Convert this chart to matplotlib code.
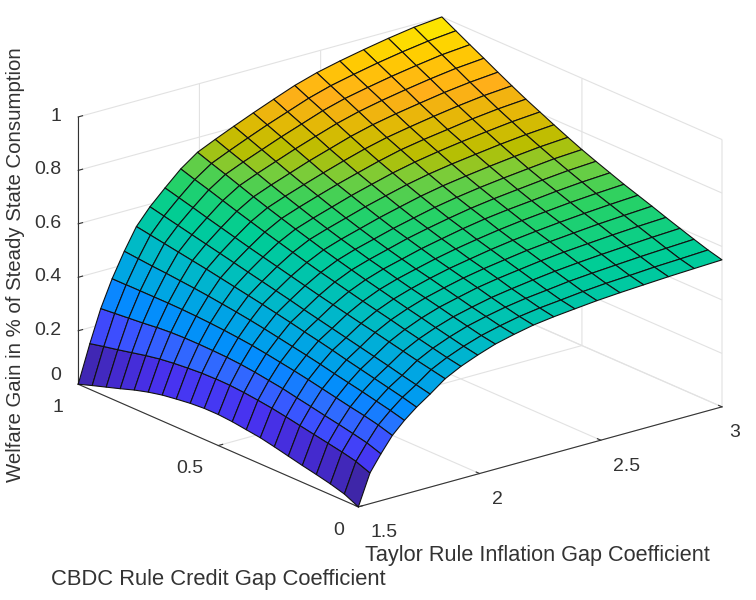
import numpy as np
import matplotlib
matplotlib.use('Agg')
import matplotlib.pyplot as plt
from matplotlib.colors import LinearSegmentedColormap

plt.rcParams['font.family'] = ['Liberation Sans', 'DejaVu Sans']

# grid of the surface
taylor = [1.5, 1.548, 1.593, 1.64, 1.69, 1.74, 1.796, 1.858, 1.923, 1.992, 2.065,
          2.142, 2.222, 2.306, 2.393, 2.484, 2.579, 2.677, 2.779, 2.885, 3.0]
cbdc = [0, .05, .1, .15, .2, .25, .3, .35, .4, .45, .5, .55, .6, .65, .7, .75, .8, .85, .9, .95, 1]

# welfare gain in thousandths, one row per cbdc value
gain = [
    [0, 115, 175, 232, 276, 313, 348, 390, 420, 445, 468, 485, 500, 510, 518, 526, 532, 537, 542, 546, 550],
    [25, 135, 193, 248, 290, 327, 360, 401, 430, 455, 477, 494, 509, 520, 528, 537, 544, 549, 555, 559, 564],
    [40, 147, 205, 260, 302, 339, 372, 412, 442, 467, 489, 506, 521, 533, 542, 552, 559, 565, 571, 576, 581],
    [52, 157, 216, 270, 314, 351, 385, 424, 454, 479, 501, 518, 534, 546, 557, 567, 575, 582, 588, 594, 599],
    [63, 167, 226, 281, 325, 363, 397, 436, 466, 492, 514, 531, 548, 561, 572, 583, 592, 599, 606, 612, 617],
    [75, 177, 237, 292, 336, 375, 409, 448, 479, 504, 526, 544, 561, 575, 587, 599, 608, 616, 624, 630, 636],
    [87, 187, 247, 303, 348, 388, 421, 459, 491, 517, 538, 557, 574, 588, 602, 614, 624, 633, 641, 648, 654],
    [98, 196, 258, 313, 359, 400, 433, 471, 503, 530, 551, 569, 587, 603, 617, 630, 641, 650, 659, 666, 672],
    [105, 203, 266, 322, 369, 411, 445, 483, 516, 543, 565, 583, 602, 618, 634, 648, 659, 668, 678, 686, 692],
    [112, 209, 274, 331, 379, 423, 457, 495, 529, 557, 578, 597, 617, 634, 650, 665, 677, 687, 697, 706, 712],
    [116, 213, 280, 339, 389, 434, 470, 508, 542, 571, 593, 612, 632, 650, 668, 683, 696, 707, 717, 727, 733],
    [116, 214, 284, 345, 398, 445, 482, 521, 556, 586, 608, 628, 649, 668, 687, 703, 716, 728, 739, 749, 756],
    [112, 213, 286, 350, 406, 455, 494, 534, 571, 602, 624, 645, 667, 687, 707, 724, 738, 750, 762, 772, 780],
    [105, 209, 287, 354, 413, 465, 506, 547, 586, 618, 641, 663, 686, 707, 728, 746, 761, 774, 786, 797, 805],
    [97, 204, 287, 357, 420, 475, 518, 560, 601, 635, 659, 682, 705, 727, 749, 769, 784, 797, 811, 822, 830],
    [85, 197, 285, 359, 426, 485, 530, 574, 617, 652, 677, 701, 725, 749, 772, 792, 808, 823, 837, 849, 857],
    [70, 187, 281, 360, 431, 494, 542, 588, 633, 670, 696, 721, 747, 771, 796, 817, 834, 849, 864, 876, 885],
    [52, 175, 275, 360, 436, 503, 554, 602, 650, 689, 716, 742, 769, 795, 821, 843, 861, 877, 892, 905, 914],
    [35, 163, 270, 360, 440, 512, 566, 617, 667, 708, 736, 763, 791, 818, 846, 869, 887, 904, 919, 933, 942],
    [18, 152, 265, 360, 445, 521, 578, 631, 683, 726, 755, 784, 813, 841, 870, 894, 913, 931, 947, 961, 971],
    [0, 140, 260, 360, 450, 530, 590, 645, 700, 745, 775, 805, 835, 865, 895, 920, 940, 958, 975, 990, 1000],
]

x_ticks = [1.5, 2, 2.5, 3]
x_labels = ['1.5', '2', '2.5', '3']
y_ticks = [0, .5, 1]
y_labels = ['0', '0.5', '1']
z_ticks = [0, .2, .4, .6, .8, 1]
z_labels = ['0', '0.2', '0.4', '0.6', '0.8', '1']

# parula-like colours as they look in the picture
stops = [(0, (62, 38, 168)), (.05, (68, 42, 205)), (.10, (72, 50, 240)), (.165, (60, 80, 255)),
         (.222, (45, 110, 255)), (.268, (5, 138, 255)), (.31, (0, 155, 240)), (.38, (0, 170, 222)),
         (.45, (0, 188, 195)), (.56, (0, 205, 150)), (.64, (40, 210, 100)), (.70, (120, 205, 60)),
         (.74, (185, 190, 0)), (.79, (225, 185, 5)), (.85, (255, 175, 25)), (.92, (255, 205, 0)),
         (1, (250, 245, 0))]
cmap = LinearSegmentedColormap.from_list('par', [(p, tuple(v / 255 for v in c)) for p, c in stops])

fig = plt.figure(figsize=(7.56, 6), dpi=100)
ax = fig.add_axes([14 / 756, 30 / 600, 1, 1], projection='3d', proj_type='ortho')
ax.set_box_aspect((464, 451, 285), zoom=1.144)
ax.view_init(elev=20.3, azim=-128.4)

X, Y = np.meshgrid(taylor, cbdc)
Z = np.array(gain) / 1000
surf = ax.plot_surface(X, Y, Z, facecolors=cmap(Z), rstride=1, cstride=1, shade=False,
                       edgecolor='#111111', linewidth=.8, antialiased=True)
surf.set_clip_on(False)

ax.set_xlim(1.5, 3, view_margin=0)
ax.set_ylim(0, 1, view_margin=0)
ax.set_zlim(0, 1, view_margin=0)
ax.set_xticks(x_ticks)
ax.set_xticklabels(x_labels)
ax.set_yticks(y_ticks)
ax.set_yticklabels(y_labels)
ax.set_zticks(z_ticks)
ax.set_zticklabels(z_labels)

for axis in (ax.xaxis, ax.yaxis, ax.zaxis):
    axis.set_pane_color((1, 1, 1, 0))
    axis.pane.set_edgecolor('#e4e4e4')
    axis.line.set_color('#333333')
    axis.line.set_linewidth(.8)
    axis._axinfo['grid'].update(color='#e2e2e2', linewidth=.8)
    axis._axinfo['tick'].update(inward_factor=0, outward_factor=.15)
    axis.set_clip_on(False)

ax.tick_params(axis='both', labelsize=14, labelcolor='#333333', color='#333333', width=.8)
ax.tick_params(axis='x', pad=2)
ax.tick_params(axis='y', pad=1)
ax.tick_params(axis='z', pad=-2)
for tick in ax.xaxis.get_major_ticks()[:3]:
    tick.label1.set_ha('left')
for tick in ax.yaxis.get_major_ticks():
    tick.label1.set_ha('right')
for tick in ax.zaxis.get_major_ticks():
    tick.label1.set_ha('right')
    tick.label1.set_va('center')
ax.zaxis.get_major_ticks()[0].label1.set_va('bottom')

fig.text(537 / 756, 1 - 555 / 600, 'Taylor Rule Inflation Gap Coefficient', ha='center', va='center',
         fontsize=15.6, color='#333333')
fig.text(218 / 756, 1 - 579 / 600, 'CBDC Rule Credit Gap Coefficient', ha='center', va='center',
         fontsize=15.8, color='#333333')
fig.text(16 / 756, 1 - 265 / 600, 'Welfare Gain in % of Steady State Consumption', rotation=90,
         ha='center', va='center', fontsize=14.7, color='#333333')

fig.savefig('out.png', dpi=100)
